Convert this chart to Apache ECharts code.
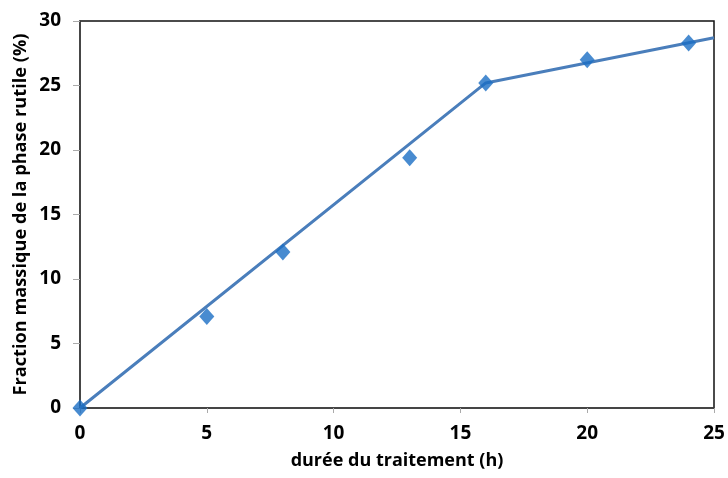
<!DOCTYPE html>
<html><head><meta charset="utf-8">
<script src="https://cdn.jsdelivr.net/npm/echarts@6/dist/echarts.min.js"></script>
<style>html,body{margin:0;padding:0;background:#fff}#c{width:728px;height:478px}</style>
</head><body><div id="c"></div>
<script>
var durations = [0, 5, 8, 13, 16, 20, 24];
var fractions = [0, 7.1, 12.1, 19.4, 25.2, 27.0, 28.3];
var fitX = [0, 16, 25];
var fitY = [0, 25.2, 28.7];
var xTitle = 'durée du traitement (h)';
var yTitle = 'Fraction massique de la phase rutile (%)';

var chart = echarts.init(document.getElementById('c'));
var font = '"Open Sans", "Liberation Sans", sans-serif';
chart.setOption({
  animation: false,
  grid: {left: 80, right: 14, top: 21, bottom: 70, show: true, borderColor: '#111', borderWidth: 1.5, backgroundColor: 'transparent'},
  xAxis: {
    type: 'value', min: 0, max: 25, interval: 5,
    name: xTitle, nameLocation: 'middle', nameGap: 44,
    nameTextStyle: {fontFamily: font, fontWeight: 'bold', fontSize: 18, color: '#000'},
    axisLine: {show: true, lineStyle: {color: '#444', width: 1.5}},
    axisTick: {show: true, length: 5, lineStyle: {color: '#aaa'}},
    axisLabel: {fontFamily: font, fontWeight: 'bold', fontSize: 19, color: '#000', margin: 16},
    splitLine: {show: false}
  },
  yAxis: {
    type: 'value', min: 0, max: 30, interval: 5,
    name: yTitle, nameLocation: 'middle', nameGap: 50, nameRotate: 90, nameMoveOverlap: false,
    nameTextStyle: {fontFamily: font, fontWeight: 'bold', fontSize: 18.2, color: '#000'},
    axisLine: {show: true, lineStyle: {color: '#444', width: 1.5}},
    axisTick: {show: true, length: 7, lineStyle: {color: '#aaa'}},
    axisLabel: {fontFamily: font, fontWeight: 'bold', fontSize: 19, color: '#000', margin: 19},
    splitLine: {show: false}
  },
  series: [
    {
      type: 'line', data: fitX.map(function(x, i){return [x, fitY[i]];}),
      showSymbol: false, symbol: 'none',
      lineStyle: {color: '#4a7ebb', width: 3}, z: 2
    },
    {
      type: 'scatter', data: durations.map(function(x, i){return [x, fractions[i]];}),
      symbol: 'diamond', symbolSize: [15, 17],
      itemStyle: {color: '#1a6ec4'}, z: 3
    }
  ]
});
</script></body></html>
